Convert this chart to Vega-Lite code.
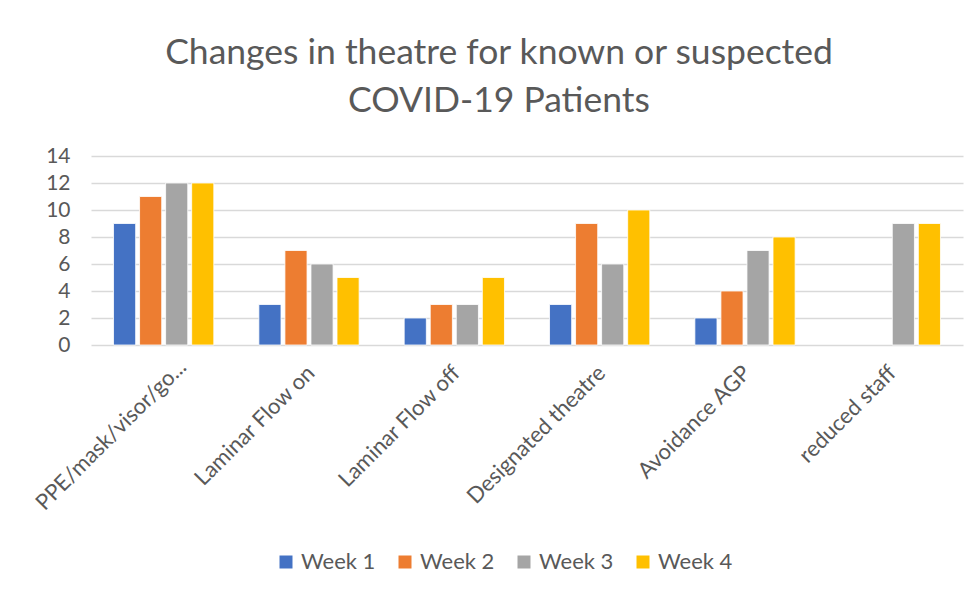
{
  "$schema": "https://vega.github.io/schema/vega-lite/v6.json",
  "autosize": "none",
  "width": 872,
  "height": 189,
  "padding": {"left": 91, "top": 156, "right": 16, "bottom": 247},
  "background": "white",
  "title": {
    "text": ["Changes in theatre for known or suspected", "COVID-19 Patients"],
    "font": "Lato",
    "fontSize": 35.5,
    "fontWeight": "normal",
    "color": "#595959",
    "anchor": "middle",
    "frame": "group",
    "dx": -28,
    "offset": 26,
    "lineHeight": 48
  },
  "data": {
    "values": [
      {"category": "PPE/mask/visor/go...", "week": "Week 1", "value": 9},
      {"category": "PPE/mask/visor/go...", "week": "Week 2", "value": 11},
      {"category": "PPE/mask/visor/go...", "week": "Week 3", "value": 12},
      {"category": "PPE/mask/visor/go...", "week": "Week 4", "value": 12},
      {"category": "Laminar  Flow on", "week": "Week 1", "value": 3},
      {"category": "Laminar  Flow on", "week": "Week 2", "value": 7},
      {"category": "Laminar  Flow on", "week": "Week 3", "value": 6},
      {"category": "Laminar  Flow on", "week": "Week 4", "value": 5},
      {"category": "Laminar  Flow off", "week": "Week 1", "value": 2},
      {"category": "Laminar  Flow off", "week": "Week 2", "value": 3},
      {"category": "Laminar  Flow off", "week": "Week 3", "value": 3},
      {"category": "Laminar  Flow off", "week": "Week 4", "value": 5},
      {"category": "Designated theatre", "week": "Week 1", "value": 3},
      {"category": "Designated theatre", "week": "Week 2", "value": 9},
      {"category": "Designated theatre", "week": "Week 3", "value": 6},
      {"category": "Designated theatre", "week": "Week 4", "value": 10},
      {"category": "Avoidance AGP", "week": "Week 1", "value": 2},
      {"category": "Avoidance AGP", "week": "Week 2", "value": 4},
      {"category": "Avoidance AGP", "week": "Week 3", "value": 7},
      {"category": "Avoidance AGP", "week": "Week 4", "value": 8},
      {"category": "reduced staff", "week": "Week 3", "value": 9},
      {"category": "reduced staff", "week": "Week 4", "value": 9}
    ]
  },
  "mark": {"type": "bar", "stroke": "white", "strokeWidth": 0.8},
  "encoding": {
    "x": {
      "field": "category",
      "type": "nominal",
      "sort": null,
      "scale": {"paddingInner": 0.31, "paddingOuter": 0.155},
      "axis": {
        "title": null,
        "labelAngle": -45,
        "labelAlign": "right",
        "labelBaseline": "middle",
        "labelFont": "Lato",
        "labelFontSize": 22,
        "labelColor": "#595959",
        "labelOffset": {"condition": {"test": "datum.value === 'PPE/mask/visor/go...'", "value": 19}, "value": 2},
        "labelPadding": {"condition": {"test": "datum.value === 'PPE/mask/visor/go...'", "value": 18}, "value": 24},
        "labelLimit": 400,
        "ticks": false,
        "domain": false,
        "grid": false
      }
    },
    "xOffset": {
      "field": "week",
      "type": "nominal",
      "scale": {"paddingInner": 0.15, "paddingOuter": 0}
    },
    "y": {
      "field": "value",
      "type": "quantitative",
      "scale": {"domain": [0, 14], "nice": false},
      "axis": {
        "title": null,
        "values": [0, 2, 4, 6, 8, 10, 12, 14],
        "labelFont": "Lato",
        "labelFontSize": 21,
        "labelColor": "#595959",
        "labelPadding": 21,
        "ticks": false,
        "domain": false,
        "grid": true,
        "gridColor": "#D9D9D9",
        "gridWidth": 1.7
      }
    },
    "color": {
      "field": "week",
      "type": "nominal",
      "scale": {
        "domain": ["Week 1", "Week 2", "Week 3", "Week 4"],
        "range": ["#4472C4", "#ED7D31", "#A5A5A5", "#FFC000"]
      },
      "legend": {
        "title": null,
        "orient": "none",
        "direction": "horizontal",
        "legendX": 184,
        "legendY": 395,
        "symbolType": "square",
        "symbolSize": 169,
        "symbolStrokeWidth": 0,
        "labelFont": "Lato",
        "labelFontSize": 22,
        "labelColor": "#595959",
        "labelOffset": 4,
        "columnPadding": 18
      }
    }
  },
  "config": {
    "view": {"stroke": null}
  }
}
